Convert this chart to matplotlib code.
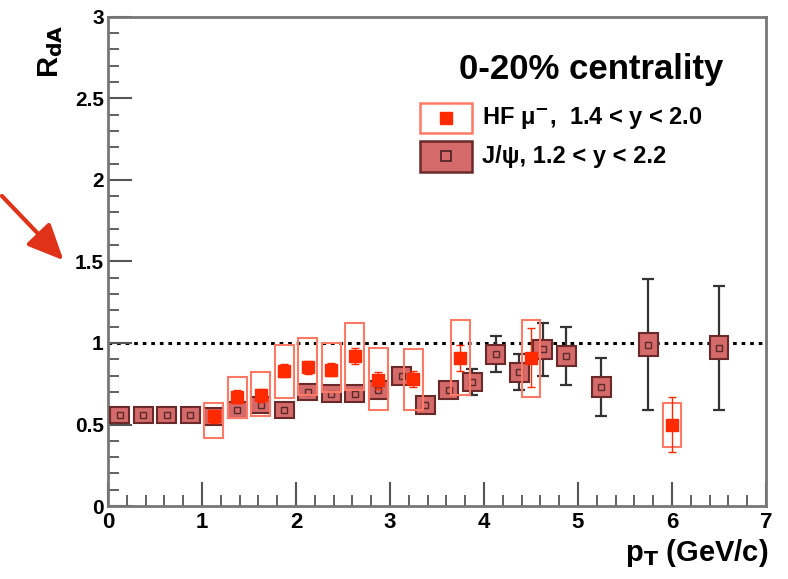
import numpy as np
import matplotlib.pyplot as plt
from matplotlib.patches import Rectangle, FancyArrowPatch
from matplotlib.ticker import MultipleLocator, FuncFormatter

plt.rcParams['font.family'] = ['Liberation Sans', 'DejaVu Sans']
plt.rcParams['font.weight'] = 'bold'

# J/psi, 1.2 < y < 2.2
jpsi_pt = [0.125, 0.375, 0.625, 0.875, 1.125, 1.375, 1.625, 1.875, 2.125, 2.375, 2.625, 2.875,
           3.125, 3.375, 3.625, 3.875, 4.125, 4.375, 4.625, 4.875, 5.25, 5.75, 6.5]
jpsi_r = [0.56, 0.56, 0.56, 0.56, 0.55, 0.59, 0.62, 0.59, 0.70, 0.69, 0.69, 0.71,
          0.80, 0.62, 0.71, 0.76, 0.93, 0.82, 0.96, 0.92, 0.73, 0.99, 0.97]
jpsi_stat = [0.02, 0.01, 0.01, 0.01, 0.01, 0.01, 0.02, 0.01, 0.02, 0.02, 0.02, 0.03,
             0.03, 0.03, 0.04, 0.08, 0.11, 0.11, 0.16, 0.18, 0.18, 0.40, 0.38]
jpsi_sys = [0.05, 0.05, 0.05, 0.05, 0.05, 0.05, 0.05, 0.05, 0.05, 0.05, 0.05, 0.055,
            0.055, 0.055, 0.055, 0.055, 0.06, 0.06, 0.06, 0.06, 0.06, 0.07, 0.07]

# HF muons, 1.4 < y < 2.0
hf_pt = [1.125, 1.375, 1.625, 1.875, 2.125, 2.375, 2.625, 2.875, 3.25, 3.75, 4.5, 6.0]
hf_r = [0.55, 0.67, 0.68, 0.83, 0.85, 0.835, 0.92, 0.77, 0.78, 0.91, 0.91, 0.50]
hf_stat = [0.04, 0.04, 0.04, 0.04, 0.04, 0.04, 0.05, 0.05, 0.05, 0.08, 0.18, 0.17]
hf_sys_lo = [0.42, 0.54, 0.55, 0.66, 0.68, 0.70, 0.71, 0.59, 0.59, 0.68, 0.67, 0.36]
hf_sys_hi = [0.63, 0.79, 0.82, 0.99, 1.03, 1.00, 1.12, 0.97, 0.96, 1.14, 1.14, 0.63]

hf_col = '#ff2a00'
hf_box = '#ff7a66'
jpsi_face = '#d46a6a'
jpsi_edge = '#6a2a2a'

fig = plt.figure(figsize=(7.88, 5.79), dpi=100)
ax = fig.add_axes([0.137, 0.126, 0.835, 0.845])

ax.axhline(1, color='black', ls=(0, (1.2, 1.6)), lw=2.2, zorder=1)

# J/psi
for x, y, s in zip(jpsi_pt, jpsi_r, jpsi_sys):
    ax.add_patch(Rectangle((x - 0.1, y - s), 0.2, 2 * s, facecolor=jpsi_face,
                           edgecolor=jpsi_edge, lw=1.5, zorder=3))
ax.errorbar(jpsi_pt, jpsi_r, yerr=jpsi_stat, fmt='none', ecolor='#333333',
            elinewidth=1.6, capsize=4, capthick=1.6, zorder=2)
ax.plot(jpsi_pt, jpsi_r, 's', ms=5, mfc='none', mec='#5a2a2a', mew=1, zorder=4)

# HF muons
for x, lo, hi in zip(hf_pt, hf_sys_lo, hf_sys_hi):
    ax.add_patch(Rectangle((x - 0.1, lo), 0.2, hi - lo, facecolor='none',
                           edgecolor=hf_box, lw=1.5, zorder=5))
ax.errorbar(hf_pt, hf_r, yerr=hf_stat, fmt='s', color=hf_col, ms=8,
            elinewidth=1, capsize=3, capthick=1, zorder=6)

ax.set_xlim(0, 7)
ax.set_ylim(0, 3)
ax.xaxis.set_major_locator(MultipleLocator(1))
ax.xaxis.set_minor_locator(MultipleLocator(0.2))
ax.yaxis.set_major_locator(MultipleLocator(0.5))
ax.yaxis.set_minor_locator(MultipleLocator(0.1))
ax.yaxis.set_major_formatter(FuncFormatter(lambda v, p: ('%g' % v)))
ax.tick_params(which='both', direction='in', top=False, right=False,
               color='#555555', pad=3)
ax.tick_params(axis='x', labelsize=16, pad=4)
ax.tick_params(axis='y', labelsize=15)
ax.tick_params(which='major', length=17, width=1.5)
ax.tick_params(which='minor', length=8, width=1.3)
for sp in ax.spines.values():
    sp.set_color('#777777')
    sp.set_linewidth(2)
for lab in ax.get_xticklabels() + ax.get_yticklabels():
    lab.set_fontweight('bold')

fig.text(0.064, 0.912, r'R$_{\mathbf{dA}}$', rotation=90, fontsize=21,
         fontweight='bold', ha='center', va='center')
fig.text(0.975, 0.045, r'p$_{\mathbf{T}}$ (GeV/c)', fontsize=21,
         fontweight='bold', ha='right', va='center')

# title and legend
ax.text(0.936, 0.893, '0-20% centrality', transform=ax.transAxes, fontsize=25,
        fontweight='bold', ha='right', va='center')
ax.add_patch(Rectangle((0.474, 0.763), 0.079, 0.061, transform=ax.transAxes,
                       facecolor='white', edgecolor=hf_box, lw=1.8, zorder=7))
ax.plot([0.5135], [0.7935], 's', color=hf_col, ms=9, transform=ax.transAxes, zorder=8)
ax.text(0.568, 0.7935, u'HF \u03bc$^{-}$,  1.4 < y < 2.0', transform=ax.transAxes,
        fontsize=17, fontweight='bold', va='center')
ax.add_patch(Rectangle((0.474, 0.683), 0.079, 0.063, transform=ax.transAxes,
                       facecolor=jpsi_face, edgecolor=jpsi_edge, lw=1.8, zorder=7))
ax.plot([0.5135], [0.7145], 's', ms=7, mfc='none', mec='#4a2020', mew=1.2,
        transform=ax.transAxes, zorder=8)
ax.text(0.568, 0.7145, u'J/\u03c8, 1.2 < y < 2.2', transform=ax.transAxes,
        fontsize=17, fontweight='bold', va='center')

# red arrow pointing at the 1.5 label
fig.patches.append(FancyArrowPatch(
    (0.0, 0.665), (0.083, 0.547), transform=fig.transFigure,
    arrowstyle='-|>,head_length=22,head_width=10', color='#e03218', lw=3,
    mutation_scale=1))

fig.savefig('out.png', dpi=100)
